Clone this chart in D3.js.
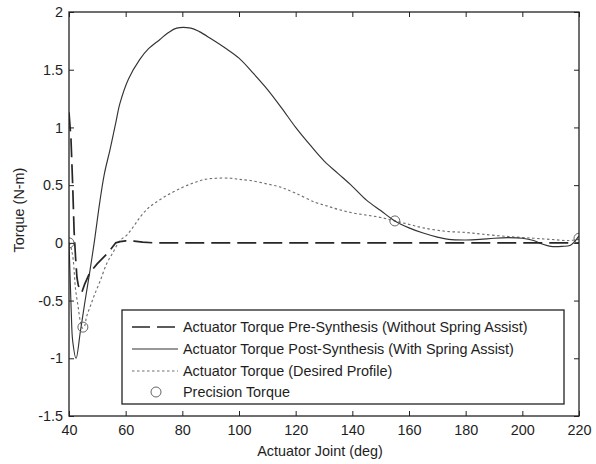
<!DOCTYPE html>
<html>
<head>
<meta charset="utf-8">
<script src="https://cdn.jsdelivr.net/npm/d3@7"></script>
<style>
  html, body { margin: 0; padding: 0; background: #fff; }
  svg { display: block; }
  text { font-family: "Liberation Sans", Arial, sans-serif; fill: #1e1e1e; }
</style>
</head>
<body>
<svg id="chart" width="596" height="464"></svg>
<script>
// ---- Data ----
const xTicks = [40, 60, 80, 100, 120, 140, 160, 180, 200, 220];
const yTicks = [-1.5, -1, -0.5, 0, 0.5, 1, 1.5, 2];
const yTickLabels = ["-1.5", "-1", "-0.5", "0", "0.5", "1", "1.5", "2"];

const legendLabels = [
  "Actuator Torque Pre-Synthesis (Without Spring Assist)",
  "Actuator Torque Post-Synthesis (With Spring Assist)",
  "Actuator Torque (Desired Profile)",
  "Precision Torque"
];

// Pre-synthesis (without spring assist)
const preX = [40, 40.7, 41.3, 41.8, 42.3, 42.8, 43.3, 44.5, 45.5, 47.3, 50, 54, 56.5, 58, 60, 63, 66, 70, 100, 150, 200, 220];
const preY = [1.13, 0.9, 0.5, 0.1, -0.12, -0.3, -0.37, -0.43, -0.36, -0.26, -0.18, -0.08, 0, 0.01, 0.017, 0.015, 0.006, 0, 0, 0, 0, 0];

// Post-synthesis (with spring assist)
const postX = [40, 40.4, 40.8, 41.3, 42.5, 44, 45.5, 47.4, 49, 50.9, 52.5, 54.5, 56.5, 58, 61, 65, 68, 72, 75, 78, 83, 86, 90, 95, 100, 105, 110, 115, 120, 125, 130, 135, 140, 145, 150, 155, 160, 165, 170, 174, 180, 185, 190, 195, 200, 204, 207, 210, 214, 217, 220];
const postY = [0, -0.3, -0.6, -0.85, -1.0, -0.77, -0.53, -0.24, 0.02, 0.36, 0.6, 0.81, 1.04, 1.21, 1.42, 1.59, 1.68, 1.76, 1.82, 1.86, 1.86, 1.83, 1.77, 1.69, 1.6, 1.47, 1.33, 1.17, 1.0, 0.85, 0.71, 0.6, 0.49, 0.37, 0.28, 0.19, 0.13, 0.085, 0.05, 0.03, 0.025, 0.03, 0.04, 0.045, 0.04, 0.02, -0.01, -0.03, -0.03, -0.02, 0.06];

// Desired profile
const desX = [40, 40.8, 41.5, 42.3, 43.2, 44, 44.8, 45.5, 46.2, 47.5, 49, 51, 53.3, 55.6, 58, 60.5, 63, 65, 67.5, 70, 74.5, 80, 84, 88, 92, 97, 100, 104, 110, 115, 120, 127, 131, 135, 140, 145, 150, 155, 160, 165, 173, 180, 186, 195, 204, 210, 216, 220];
const desY = [0, -0.05, -0.15, -0.4, -0.55, -0.68, -0.74, -0.72, -0.64, -0.55, -0.45, -0.33, -0.18, -0.08, 0.02, 0.07, 0.15, 0.22, 0.29, 0.34, 0.41, 0.48, 0.52, 0.55, 0.56, 0.56, 0.55, 0.54, 0.51, 0.48, 0.43, 0.35, 0.32, 0.29, 0.26, 0.24, 0.22, 0.19, 0.16, 0.13, 0.1, 0.09, 0.075, 0.055, 0.04, 0.03, 0.02, 0.03];

// Precision torque points
const precX = [40, 44.9, 155, 220];
const precY = [0, -0.73, 0.19, 0.04];

// ---- Layout ----
const svg = d3.select("#chart");
const L = 69, R = 579, T = 12, B = 416;

const x = d3.scaleLinear().domain([40, 220]).range([L, R]);
const y = d3.scaleLinear().domain([-1.5, 2]).range([B, T]);

svg.append("defs").append("clipPath").attr("id", "plotclip")
  .append("rect").attr("x", L).attr("y", T).attr("width", R - L).attr("height", B - T);

const plot = svg.append("g").attr("clip-path", "url(#plotclip)");

const zip = (xs, ys) => xs.map((v, i) => [v, ys[i]]);
const lineLin = d3.line().x(d => x(d[0])).y(d => y(d[1]));
const lineSmooth = d3.line().x(d => x(d[0])).y(d => y(d[1])).curve(d3.curveCatmullRom.alpha(0.5));

const styles = {
  pre:  { stroke: "#262626", width: 1.7, dash: "19,7" },
  post: { stroke: "#333", width: 1.15, dash: null },
  des:  { stroke: "#707070", width: 1.15, dash: "2.5,2.5" }
};

plot.append("path").datum(zip(desX, desY)).attr("d", lineSmooth)
  .attr("fill", "none").attr("stroke", styles.des.stroke)
  .attr("stroke-width", styles.des.width).attr("stroke-dasharray", styles.des.dash);

plot.append("path").datum(zip(postX, postY)).attr("d", lineSmooth)
  .attr("fill", "none").attr("stroke", styles.post.stroke)
  .attr("stroke-width", styles.post.width);

plot.append("path").datum(zip(preX, preY)).attr("d", lineLin)
  .attr("fill", "none").attr("stroke", styles.pre.stroke)
  .attr("stroke-width", styles.pre.width).attr("stroke-dasharray", styles.pre.dash);

plot.selectAll("circle.prec").data(zip(precX, precY)).enter().append("circle")
  .attr("class", "prec")
  .attr("cx", d => x(d[0])).attr("cy", d => y(d[1])).attr("r", 5)
  .attr("fill", "none").attr("stroke", "#666").attr("stroke-width", 1);

// ---- Axes (MATLAB style box with inward ticks) ----
const axBottom = d3.axisBottom(x).tickValues(xTicks).tickSize(-5).tickPadding(9).tickFormat(d3.format("d"));
const axTop = d3.axisTop(x).tickValues(xTicks).tickSize(-5).tickFormat("");
const axLeft = d3.axisLeft(y).tickValues(yTicks).tickSize(-5).tickPadding(6)
  .tickFormat(d => yTickLabels[yTicks.indexOf(d)]);
const axRight = d3.axisRight(y).tickValues(yTicks).tickSize(-5).tickFormat("");

function styleAxis(g) {
  g.select(".domain").remove();
  g.selectAll(".tick line").attr("stroke", "#222").attr("stroke-width", 1);
  g.selectAll(".tick text").attr("fill", "#1e1e1e")
    .style("font-family", '"Liberation Sans", Arial, sans-serif').style("font-size", "14.4px");
}

svg.append("g").attr("transform", `translate(0,${B})`).call(axBottom).call(styleAxis);
svg.append("g").attr("transform", `translate(0,${T})`).call(axTop).call(styleAxis);
svg.append("g").attr("transform", `translate(${L},0)`).call(axLeft).call(styleAxis);
svg.append("g").attr("transform", `translate(${R},0)`).call(axRight).call(styleAxis);

svg.append("rect").attr("x", L).attr("y", T).attr("width", R - L).attr("height", B - T)
  .attr("fill", "none").attr("stroke", "#222").attr("stroke-width", 1.3);

// Axis titles
svg.append("text").attr("x", (L + R) / 2 - 4).attr("y", 456).attr("text-anchor", "middle")
  .style("font-size", "14.4px").text("Actuator Joint (deg)");
svg.append("text").attr("transform", `translate(24,${(T + B) / 2 - 4}) rotate(-90)`)
  .attr("text-anchor", "middle").style("font-size", "14.4px").text("Torque (N-m)");

// ---- Legend ----
const lg = svg.append("g");
lg.append("rect").attr("x", 122).attr("y", 310).attr("width", 442).attr("height", 94)
  .attr("fill", "#fff").attr("stroke", "#222").attr("stroke-width", 1.3);

const rowY = [327, 349, 371, 392];
const keys = ["pre", "post", "des"];
keys.forEach((k, i) => {
  const s = styles[k];
  const ln = lg.append("line").attr("x1", 132).attr("x2", 178)
    .attr("y1", rowY[i]).attr("y2", rowY[i])
    .attr("stroke", s.stroke).attr("stroke-width", s.width);
  if (s.dash) ln.attr("stroke-dasharray", k === "pre" ? "18,7" : s.dash);
});
lg.append("circle").attr("cx", 156).attr("cy", rowY[3]).attr("r", 5)
  .attr("fill", "none").attr("stroke", "#666").attr("stroke-width", 1);

legendLabels.forEach((t, i) => {
  lg.append("text").attr("x", 183).attr("y", rowY[i]).attr("dy", "0.36em")
    .style("font-size", "14.4px").text(t);
});
</script>
</body>
</html>
